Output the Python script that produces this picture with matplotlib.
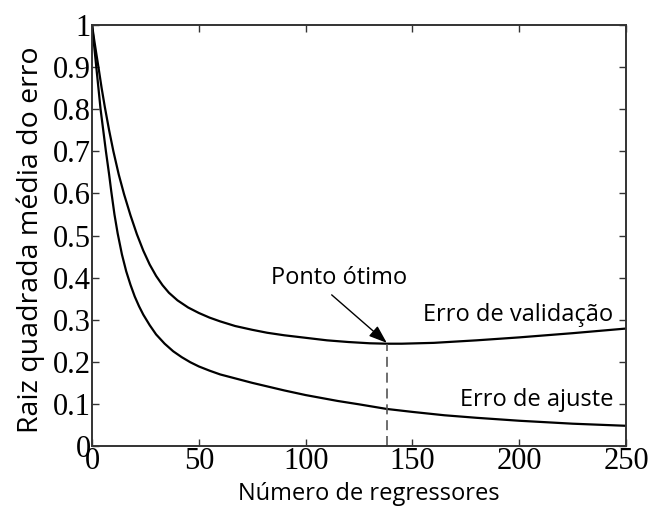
import matplotlib.pyplot as plt

# Erro (RMS) em função do número de regressores
x_val = [0, 1, 2, 3, 4.5, 6, 8, 10, 12.5, 15, 18, 21, 24, 27, 30, 33, 36, 40, 45, 50,
         55, 60, 67, 75, 82, 90, 100, 110, 120, 130, 138, 145, 160, 180, 200, 225, 250]
y_val = [1.0, 0.965, 0.932, 0.90, 0.85, 0.805, 0.75, 0.70, 0.645, 0.598, 0.548, 0.503, 0.464, 0.431, 0.404, 0.382, 0.364, 0.346, 0.329, 0.316,
         0.305, 0.296, 0.285, 0.276, 0.269, 0.263, 0.257, 0.251, 0.247, 0.244, 0.243, 0.243, 0.245, 0.251, 0.258, 0.268, 0.279]

x_fit = [0, 1, 2, 3, 4, 5, 6.5, 8, 9, 10.5, 12, 14, 16, 18, 20, 22, 24, 27, 30, 34, 38, 42, 46, 50,
         55, 60, 75, 90, 100, 115, 125, 138, 150, 165, 180, 200, 225, 250]
y_fit = [1.0, 0.95, 0.90, 0.85, 0.80, 0.76, 0.70, 0.645, 0.605, 0.55, 0.505, 0.455, 0.415, 0.383, 0.355, 0.332, 0.312, 0.287, 0.265, 0.243, 0.225, 0.211, 0.199, 0.189,
         0.179, 0.170, 0.150, 0.132, 0.121, 0.107, 0.099, 0.088, 0.081, 0.073, 0.067, 0.060, 0.053, 0.048]

x_opt = 138
y_opt = 0.243

serif = 'Liberation Serif'
sans = 'Open Sans'

fig = plt.figure(figsize=(6.49, 5.07), dpi=100)
ax = fig.add_axes([0.1418, 0.1203, 0.8228, 0.8304])

ax.plot(x_val, y_val, color='black', lw=1.6)
ax.plot(x_fit, y_fit, color='black', lw=1.6)

# linha tracejada até o ponto ótimo
ax.plot([x_opt, x_opt], [0, y_opt], color='#555555', lw=1.2, ls=(0, (6, 3.5)))

ax.text(115.6, 0.40, 'Ponto ótimo', fontsize=17, family=sans, ha='center', va='center')
ax.annotate('', xy=(x_opt, y_opt + 0.002), xytext=(112.2, 0.359),
            arrowprops=dict(arrowstyle='-|>,head_length=0.55,head_width=0.2',
                            color='black', lw=1.0, mutation_scale=20,
                            shrinkA=0, shrinkB=0))

ax.text(244, 0.311, 'Erro de validação', fontsize=17, family=sans, ha='right', va='center')
ax.text(244, 0.109, 'Erro de ajuste', fontsize=17, family=sans, ha='right', va='center')

ax.set_xlim(0, 250)
ax.set_ylim(0, 1)
ax.set_xticks([0, 50, 100, 150, 200, 250])
ax.set_yticks([0, 0.1, 0.2, 0.3, 0.4, 0.5, 0.6, 0.7, 0.8, 0.9, 1])
ax.set_yticklabels(['0', '0.1', '0.2', '0.3', '0.4', '0.5', '0.6', '0.7', '0.8', '0.9', '1'])

ax.tick_params(direction='in', top=True, right=True, length=5, width=1.0,
               color='#333333', labelsize=22, pad=1)
for lab in ax.get_xticklabels() + ax.get_yticklabels():
    lab.set_family(serif)

for s in ax.spines.values():
    s.set_linewidth(1.4)
    s.set_color('#333333')

ax.set_xlabel('Número de regressores', fontsize=17, family=sans)
ax.set_ylabel('Raiz quadrada média do erro', fontsize=20.5, family=sans)
ax.xaxis.set_label_coords(0.519, -0.086)
ax.yaxis.set_label_coords(-0.089, 0.49)

fig.savefig('out.png', dpi=100)
